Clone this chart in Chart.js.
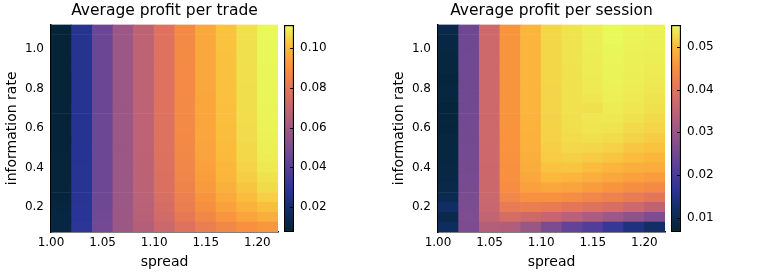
<!DOCTYPE html>
<html>
<head>
<meta charset="utf-8">
<script src="https://cdn.jsdelivr.net/npm/chart.js@4.4.0/dist/chart.umd.min.js"></script>
<style>
  body { margin: 0; background: #fff; }
  #wrap { position: relative; width: 775px; height: 277px; }
  canvas { position: absolute; top: 0; }
</style>
</head>
<body>
<div id="wrap">
  <canvas id="heatTrade" width="282" height="277" style="left:0px"></canvas>
  <canvas id="barTrade" width="80" height="277" style="left:280px"></canvas>
  <canvas id="heatSession" width="282" height="277" style="left:387px"></canvas>
  <canvas id="barSession" width="80" height="277" style="left:667px"></canvas>
</div>
<script>
// cell centres
var spreads = [1.01, 1.03, 1.05, 1.07, 1.09, 1.11, 1.13, 1.15, 1.17, 1.19, 1.21];
var infoRates = [0.10, 0.15, 0.20, 0.25, 0.30, 0.35, 0.40, 0.45, 0.50, 0.55, 0.60,
    0.65, 0.70, 0.75, 0.80, 0.85, 0.90, 0.95, 1.00, 1.05, 1.10];

// axis ranges / ticks
var spreadRange = [1.00, 1.22];
var rateRange = [0.075, 1.125];
var spreadTicks = [1.00, 1.05, 1.10, 1.15, 1.20];
var rateTicks = [0.2, 0.4, 0.6, 0.8, 1.0];

// one row per information rate (bottom row first), one value per spread
var profitPerTrade = [
    [.0110, .0292, .0470, .0585, .0650, .0720, .0780, .0830, .0870, .0900, .0920],
    [.0104, .0286, .0465, .0583, .0659, .0738, .0810, .0869, .0915, .0951, .0977],
    [.0100, .0282, .0462, .0582, .0665, .0750, .0830, .0895, .0945, .0985, .1015],
    [.0097, .0280, .0460, .0581, .0669, .0758, .0844, .0913, .0966, .1009, .1042],
    [.0095, .0278, .0458, .0580, .0672, .0764, .0854, .0926, .0981, .1026, .1061],
    [.0093, .0277, .0457, .0580, .0674, .0769, .0861, .0935, .0992, .1038, .1074],
    [.0092, .0276, .0456, .0581, .0676, .0772, .0866, .0942, .0999, .1046, .1083],
    [.0091, .0275, .0455, .0580, .0677, .0774, .0870, .0947, .1005, .1053, .1091],
    [.0090, .0275, .0455, .0579, .0678, .0776, .0873, .0951, .1010, .1058, .1097],
    [.0089, .0274, .0454, .0580, .0678, .0777, .0875, .0954, .1013, .1062, .1100],
    [.0089, .0273, .0453, .0580, .0679, .0778, .0876, .0955, .1014, .1063, .1102],
    [.0088, .0272, .0453, .0580, .0679, .0778, .0877, .0956, .1016, .1065, .1104],
    [.0088, .0272, .0452, .0579, .0679, .0779, .0878, .0957, .1016, .1066, .1105],
    [.0087, .0271, .0452, .0580, .0680, .0779, .0878, .0957, .1017, .1067, .1106],
    [.0087, .0271, .0451, .0580, .0680, .0779, .0879, .0958, .1018, .1067, .1107],
    [.0087, .0270, .0451, .0580, .0680, .0779, .0879, .0959, .1019, .1068, .1108],
    [.0086, .0270, .0450, .0581, .0680, .0780, .0879, .0959, .1019, .1068, .1108],
    [.0086, .0270, .0450, .0580, .0680, .0780, .0880, .0959, .1019, .1069, .1109],
    [.0086, .0270, .0450, .0580, .0680, .0780, .0880, .0960, .1020, .1070, .1110],
    [.0085, .0270, .0450, .0580, .0680, .0780, .0880, .0960, .1020, .1070, .1110],
    [.0085, .0270, .0450, .0580, .0680, .0780, .0880, .0960, .1020, .1070, .1110]
];

var profitPerSession = [
    [.0115, .0262, .0335, .0330, .0300, .0262, .0232, .0210, .0180, .0145, .0122],
    [.0095, .0265, .0355, .0380, .0370, .0360, .0342, .0325, .0305, .0285, .0265],
    [.0120, .0262, .0362, .0412, .0420, .0413, .0404, .0394, .0383, .0368, .0350],
    [.0100, .0260, .0365, .0436, .0452, .0452, .0445, .0436, .0427, .0416, .0405],
    [.0092, .0258, .0366, .0446, .0470, .0480, .0475, .0466, .0457, .0448, .0440],
    [.0088, .0257, .0367, .0450, .0479, .0498, .0495, .0487, .0478, .0471, .0465],
    [.0085, .0255, .0367, .0452, .0485, .0508, .0509, .0502, .0495, .0488, .0484],
    [.0080, .0254, .0368, .0454, .0488, .0514, .0518, .0514, .0509, .0501, .0497],
    [.0082, .0253, .0368, .0455, .0490, .0517, .0524, .0523, .0519, .0511, .0507],
    [.0080, .0252, .0368, .0455, .0491, .0519, .0527, .0530, .0527, .0520, .0515],
    [.0078, .0252, .0369, .0456, .0492, .0520, .0529, .0534, .0533, .0526, .0521],
    [.0079, .0251, .0369, .0456, .0492, .0520, .0530, .0536, .0537, .0531, .0526],
    [.0077, .0250, .0369, .0456, .0493, .0521, .0531, .0530, .0540, .0535, .0530],
    [.0080, .0250, .0369, .0457, .0493, .0521, .0531, .0535, .0542, .0538, .0533],
    [.0082, .0249, .0370, .0457, .0493, .0521, .0532, .0538, .0544, .0540, .0536],
    [.0078, .0249, .0370, .0457, .0494, .0522, .0532, .0539, .0545, .0541, .0538],
    [.0080, .0248, .0370, .0457, .0494, .0522, .0532, .0540, .0546, .0542, .0540],
    [.0081, .0248, .0370, .0457, .0494, .0522, .0533, .0540, .0547, .0543, .0541],
    [.0085, .0247, .0370, .0457, .0494, .0522, .0533, .0541, .0548, .0544, .0542],
    [.0088, .0247, .0370, .0457, .0494, .0522, .0533, .0541, .0549, .0545, .0543],
    [.0092, .0246, .0370, .0457, .0494, .0522, .0533, .0541, .0551, .0545, .0543]
];

// colour limits and colour bar ticks
var tradeLimits = [0.0075, 0.1115];
var sessionLimits = [0.0067, 0.0551];
var tradeBarTicks = [0.02, 0.04, 0.06, 0.08, 0.10];
var sessionBarTicks = [0.01, 0.02, 0.03, 0.04, 0.05];

// thermal-like colour map
var thermal = [
    [0.00, [4, 35, 51]],
    [0.10, [14, 45, 95]],
    [0.20, [41, 52, 150]],
    [0.30, [83, 61, 154]],
    [0.40, [122, 76, 144]],
    [0.50, [160, 89, 132]],
    [0.60, [197, 101, 113]],
    [0.70, [229, 118, 88]],
    [0.80, [249, 146, 62]],
    [0.90, [251, 188, 60]],
    [0.95, [242, 220, 76]],
    [1.00, [232, 250, 91]]
];

function rgb(c) {
    return 'rgb(' + Math.round(c[0]) + ',' + Math.round(c[1]) + ',' + Math.round(c[2]) + ')';
}

function colourFor(v, lim) {
    var t = (v - lim[0]) / (lim[1] - lim[0]);
    t = Math.max(0, Math.min(1, t));
    for (var i = 1; i < thermal.length; i++) {
        if (t <= thermal[i][0]) {
            var a = thermal[i - 1], b = thermal[i];
            var f = (t - a[0]) / (b[0] - a[0]);
            return rgb([0, 1, 2].map(function (k) { return a[1][k] + (b[1][k] - a[1][k]) * f; }));
        }
    }
    return rgb(thermal[thermal.length - 1][1]);
}

Chart.defaults.font.family = "'DejaVu Sans', sans-serif";
Chart.defaults.color = '#000';

var halfRow = (infoRates[1] - infoRates[0]) / 2;

function heatmap(id, title, grid, lim) {
    var datasets = infoRates.map(function (rate, r) {
        var colours = grid[r].map(function (v) { return colourFor(v, lim); });
        return {
            data: grid[r].map(function () { return [rate - halfRow, rate + halfRow]; }),
            backgroundColor: colours,
            borderWidth: 0,
            grouped: false,
            barPercentage: 1,
            categoryPercentage: 1
        };
    });

    return new Chart(document.getElementById(id), {
        type: 'bar',
        data: { labels: spreads, datasets: datasets },
        options: {
            responsive: false,
            animation: false,
            layout: { padding: { left: 0, right: 4, top: 0, bottom: 0 } },
            plugins: {
                legend: { display: false },
                tooltip: { enabled: false },
                title: {
                    display: true,
                    text: title,
                    fullSize: false,
                    color: '#000',
                    font: { size: 15.5, weight: 'normal' },
                    padding: { top: 2, bottom: 4 }
                }
            },
            scales: {
                x: { type: 'category', display: false },
                xs: {
                    type: 'linear',
                    position: 'bottom',
                    offset: false,
                    min: spreadRange[0],
                    max: spreadRange[1],
                    grid: { display: false, drawTicks: false, offset: false },
                    border: { display: true, color: '#000', width: 1.5 },
                    ticks: {
                        padding: 4,
                        font: { size: 12 },
                        callback: function (v) { return v.toFixed(2); }
                    },
                    afterBuildTicks: function (s) {
                        s.ticks = spreadTicks.map(function (v) { return { value: v }; });
                    },
                    title: { display: true, text: 'spread', font: { size: 14 }, padding: { top: 0, bottom: 6 } },
                    afterFit: function (s) { s.height = 45; }
                },
                y: {
                    type: 'linear',
                    min: rateRange[0],
                    max: rateRange[1],
                    grid: { display: false, drawTicks: false },
                    border: { display: true, color: '#000', width: 1.5 },
                    ticks: {
                        padding: 7,
                        font: { size: 12 },
                        callback: function (v) { return v.toFixed(1); }
                    },
                    afterBuildTicks: function (s) {
                        s.ticks = rateTicks.map(function (v) { return { value: v }; });
                    },
                    title: { display: true, text: 'information rate', font: { size: 14 }, padding: { top: 4, bottom: 0 } },
                    afterFit: function (s) { s.width = 51; }
                }
            }
        }
    });
}

var innerTicks = {
    id: 'innerTicks',
    afterDatasetsDraw: function (chart) {
        var ctx = chart.ctx, area = chart.chartArea, ys = chart.scales.y;
        ctx.save();
        ctx.strokeStyle = '#000';
        ctx.lineWidth = 1;
        ys.ticks.forEach(function (t) {
            var y = Math.round(ys.getPixelForValue(t.value)) + 0.5;
            ctx.beginPath();
            ctx.moveTo(area.right - 4, y);
            ctx.lineTo(area.right - 1, y);
            ctx.stroke();
        });
        ctx.restore();
    }
};

function colourbar(id, lim, ticks, decimals) {
    return new Chart(document.getElementById(id), {
        type: 'bar',
        data: {
            labels: [''],
            datasets: [{
                data: [[lim[0], lim[1]]],
                backgroundColor: function (c) {
                    var chart = c.chart;
                    if (!chart.chartArea) return null;
                    var ys = chart.scales.y;
                    var g = chart.ctx.createLinearGradient(0, ys.getPixelForValue(lim[0]), 0, ys.getPixelForValue(lim[1]));
                    thermal.forEach(function (s) { g.addColorStop(s[0], rgb(s[1])); });
                    return g;
                },
                borderColor: '#000',
                borderWidth: 1.5,
                borderSkipped: false,
                barPercentage: 1,
                categoryPercentage: 1
            }]
        },
        options: {
            responsive: false,
            animation: false,
            layout: { padding: { left: 4, right: 0, top: 25, bottom: 45 } },
            plugins: { legend: { display: false }, tooltip: { enabled: false } },
            scales: {
                x: { display: false },
                y: {
                    position: 'right',
                    min: lim[0],
                    max: lim[1],
                    grid: { display: false, drawTicks: false },
                    border: { display: false },
                    ticks: {
                        padding: 6,
                        font: { size: 12 },
                        callback: function (v) { return v.toFixed(decimals); }
                    },
                    afterBuildTicks: function (s) {
                        s.ticks = ticks.map(function (v) { return { value: v }; });
                    },
                    afterFit: function (s) { s.width = 66; }
                }
            }
        },
        plugins: [innerTicks]
    });
}

heatmap('heatTrade', 'Average profit per trade', profitPerTrade, tradeLimits);
colourbar('barTrade', tradeLimits, tradeBarTicks, 2);
heatmap('heatSession', 'Average profit per session', profitPerSession, sessionLimits);
colourbar('barSession', sessionLimits, sessionBarTicks, 2);
</script>
</body>
</html>
